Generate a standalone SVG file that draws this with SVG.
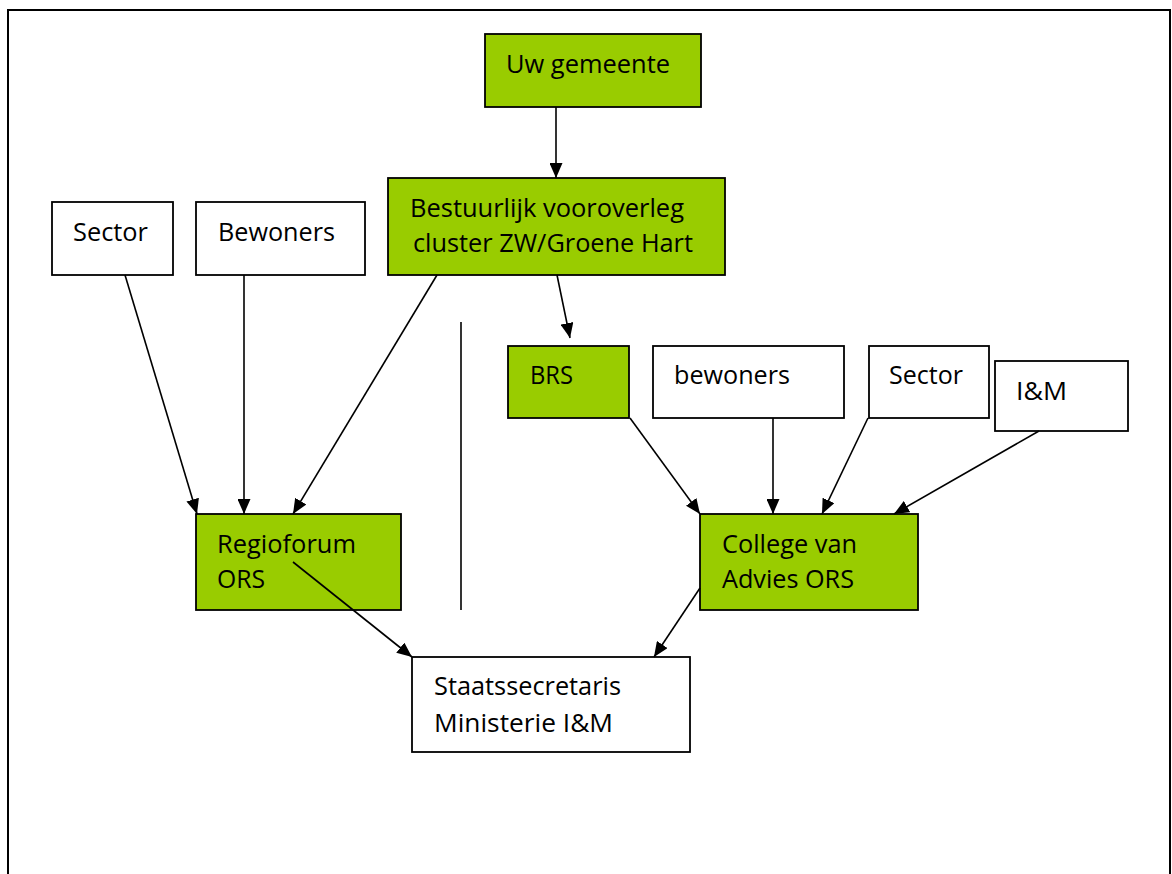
<svg xmlns="http://www.w3.org/2000/svg" width="1172" height="874" viewBox="0 0 1172 874">
<style>
.g{fill:#99CC00;stroke:#000;stroke-width:1.8}
.w{fill:#fff;stroke:#000;stroke-width:1.8}
text{font-family:"Open Sans","Liberation Sans",sans-serif;font-size:26px;fill:#000}
.c line{stroke:#000;stroke-width:1.6}
.a{marker-end:url(#ah)}
</style>
<defs>
<marker id="ah" markerUnits="userSpaceOnUse" markerWidth="15" markerHeight="13" refX="15" refY="6.5" orient="auto" viewBox="0 0 15 13">
<path d="M0,0 L15,6.5 L0,13 z" fill="#000"/>
</marker>
</defs>
<rect width="1172" height="874" fill="#fff"/>
<path d="M8,880 V10 H1170 V880" fill="none" stroke="#000" stroke-width="2"/>
<g id="uw-gemeente"><rect class="g" x="485" y="34" width="216" height="73"/><text x="506" y="73" textLength="164" lengthAdjust="spacingAndGlyphs">Uw gemeente</text></g>
<g id="bestuurlijk"><rect class="g" x="388" y="178" width="337" height="97"/><text x="410" y="217" textLength="274" lengthAdjust="spacingAndGlyphs">Bestuurlijk vooroverleg</text><text x="413" y="252" textLength="280" lengthAdjust="spacingAndGlyphs">cluster ZW/Groene Hart</text></g>
<g id="sector-left"><rect class="w" x="52" y="202" width="121" height="73"/><text x="73" y="241" textLength="75" lengthAdjust="spacingAndGlyphs">Sector</text></g>
<g id="bewoners-left"><rect class="w" x="196" y="202" width="169" height="73"/><text x="218" y="241" textLength="117" lengthAdjust="spacingAndGlyphs">Bewoners</text></g>
<g id="brs"><rect class="g" x="508" y="346" width="121" height="72"/><text x="530" y="384" textLength="43" lengthAdjust="spacingAndGlyphs">BRS</text></g>
<g id="bewoners-right"><rect class="w" x="653" y="346" width="191" height="72"/><text x="674" y="384" textLength="116" lengthAdjust="spacingAndGlyphs">bewoners</text></g>
<g id="sector-right"><rect class="w" x="869" y="346" width="120" height="72"/><text x="889" y="384" textLength="74" lengthAdjust="spacingAndGlyphs">Sector</text></g>
<g id="im"><rect class="w" x="995" y="361" width="133" height="70"/><text x="1016" y="400" textLength="51" lengthAdjust="spacingAndGlyphs">I&amp;M</text></g>
<g id="regioforum"><rect class="g" x="196" y="514" width="205" height="96"/><text x="217" y="553" textLength="139" lengthAdjust="spacingAndGlyphs">Regioforum</text><text x="217" y="588" textLength="48" lengthAdjust="spacingAndGlyphs">ORS</text></g>
<g id="college"><rect class="g" x="700" y="514" width="218" height="96"/><text x="722" y="553" textLength="135" lengthAdjust="spacingAndGlyphs">College van</text><text x="722" y="588" textLength="132" lengthAdjust="spacingAndGlyphs">Advies ORS</text></g>
<g id="staatssecretaris"><rect class="w" x="412" y="657" width="278" height="95"/><text x="434" y="695" textLength="187" lengthAdjust="spacingAndGlyphs">Staatssecretaris</text><text x="434" y="732" textLength="179" lengthAdjust="spacingAndGlyphs">Ministerie I&amp;M</text></g>
<g class="c" id="connectors">
<line class="a" x1="556" y1="107" x2="556" y2="178"/>
<line class="a" x1="125" y1="275" x2="197" y2="514"/>
<line class="a" x1="244" y1="275" x2="244" y2="514"/>
<line class="a" x1="437" y1="275" x2="293" y2="514"/>
<line class="a" x1="557" y1="275" x2="570" y2="338"/>
<line x1="461" y1="322" x2="461" y2="610"/>
<line class="a" x1="630" y1="418" x2="700" y2="514"/>
<line class="a" x1="773" y1="418" x2="773" y2="514"/>
<line class="a" x1="868" y1="418" x2="822" y2="514"/>
<line class="a" x1="1039" y1="431" x2="894" y2="514"/>
<line class="a" x1="293" y1="562" x2="412" y2="657"/>
<line class="a" x1="700" y1="588" x2="654" y2="657"/>
</g>
</svg>
